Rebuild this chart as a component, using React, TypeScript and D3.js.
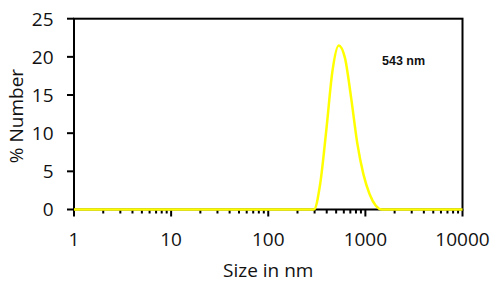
import React from "react";
import * as d3 from "d3";

// Size bins (nm) and % Number values
const sizes = [1, 295.3, 342.0, 396.1, 458.7, 531.2, 615.1, 712.4, 825.0, 955.4, 1106, 1281, 1484, 10000];
const numberPct = [0, 0, 3.3, 10.4, 18.2, 21.5, 19.9, 14.7, 8.7, 4.6, 2.0, 0.5, 0, 0];

const yTicks = [0, 5, 10, 15, 20, 25];
const xMajorTicks = [1, 10, 100, 1000, 10000];
const xTickLabels = ["1", "10", "100", "1000", "10000"];
const peakLabel = "543 nm";
const xTitle = "Size in nm";
const yTitle = "% Number";

const W = 500;
const H = 283;
const left = 74;
const right = 462.5;
const top = 18.7;
const bottom = 209.5;
const FONT = "'Open Sans', sans-serif";
const FS = 19;

export default function App() {
  const x = d3.scaleLog().domain([1, 10000]).range([left, right]);
  const y = d3.scaleLinear().domain([0, 25]).range([bottom, top]);

  const data = sizes.map((s, i) => ({ s, v: numberPct[i] }));
  const line = d3
    .line<{ s: number; v: number }>()
    .x((d) => x(d.s))
    .y((d) => y(d.v))
    .curve(d3.curveMonotoneX);

  const allTicks = x.ticks();
  const isMajor = (t: number) => Math.abs(Math.log10(t) - Math.round(Math.log10(t))) < 1e-9;

  return (
    <svg
      width={W}
      height={H}
      style={{ position: "fixed", left: 0, top: 0, background: "#fff" }}
    >
      <rect x={0} y={0} width={W} height={H} fill="#fff" />
      {/* frame */}
      <rect
        x={left}
        y={top}
        width={right - left}
        height={bottom - top}
        fill="none"
        stroke="#000"
        strokeWidth={2}
      />
      {/* x ticks */}
      {allTicks.map((t, i) => (
        <line
          key={"xt" + i}
          x1={x(t)}
          x2={x(t)}
          y1={bottom}
          y2={bottom + (isMajor(t) ? 7 : 4)}
          stroke="#000"
          strokeWidth={2}
        />
      ))}
      {/* y ticks */}
      {yTicks.map((t) => (
        <line
          key={"yt" + t}
          x1={left - 7}
          x2={left}
          y1={y(t)}
          y2={y(t)}
          stroke="#000"
          strokeWidth={2}
        />
      ))}
      {/* y tick labels */}
      {yTicks.map((t) => (
        <text
          key={"yl" + t}
          x={53.5}
          y={y(t)}
          dy="0.36em"
          textAnchor="end"
          fontFamily={FONT}
          fontSize={FS}
          fill="#111"
        >
          {t}
        </text>
      ))}
      {/* x tick labels */}
      {xMajorTicks.map((t, i) => (
        <text
          key={"xl" + t}
          x={x(t)}
          y={246}
          textAnchor="middle"
          fontFamily={FONT}
          fontSize={FS}
          fill="#111"
        >
          {xTickLabels[i]}
        </text>
      ))}
      {/* axis titles */}
      <text
        x={(left + right) / 2}
        y={277}
        textAnchor="middle"
        fontFamily={FONT}
        fontSize={FS}
        fill="#111"
      >
        {xTitle}
      </text>
      <text
        transform={`translate(23,116) rotate(-90)`}
        textAnchor="middle"
        fontFamily={FONT}
        fontSize={FS}
        fill="#111"
      >
        {yTitle}
      </text>
      {/* data line */}
      <path d={line(data) || ""} fill="none" stroke="#ffff00" strokeWidth={2.5} />
      {/* peak annotation */}
      <text
        x={382}
        y={65}
        fontFamily="'Liberation Sans', Arial, sans-serif"
        fontWeight="bold"
        fontSize={12.5}
        fill="#111"
      >
        {peakLabel}
      </text>
    </svg>
  );
}
